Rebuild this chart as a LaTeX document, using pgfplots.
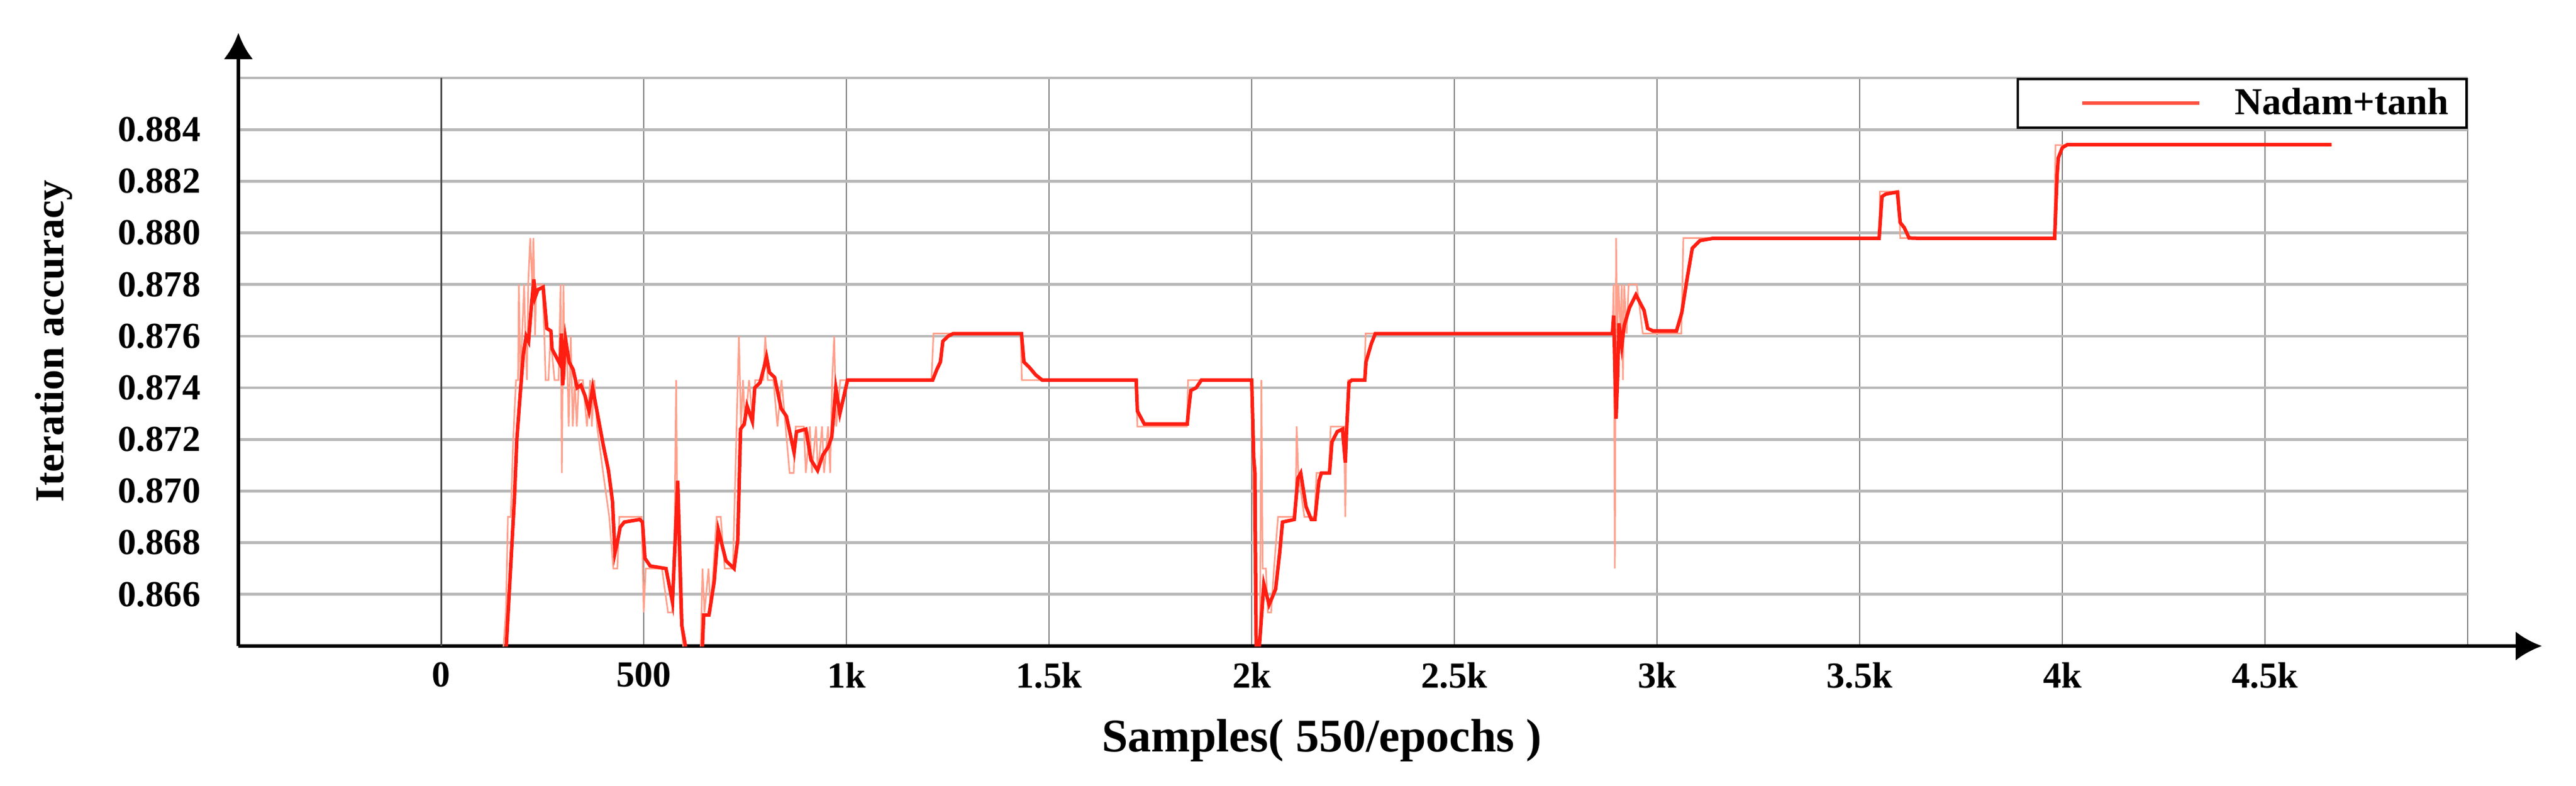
\documentclass[border=0pt]{standalone}
\usepackage{fontspec}
\setmainfont{Liberation Serif}
\usepackage{pgfplots}
\pgfplotsset{compat=1.18}
\usetikzlibrary{arrows.meta}

\definecolor{mainred}{RGB}{255,30,18}
\definecolor{rawred}{RGB}{255,160,140}
\definecolor{legred}{RGB}{255,82,66}

\begin{document}
\begin{tikzpicture}
\path[use as bounding box] (-81.4pt,-47.6pt) rectangle (798.2pt,220.6pt);
\begin{axis}[
  scale only axis,
  width=761.2pt, height=194pt,
  xmin=-500, xmax=5000,
  ymin=0.864, ymax=0.886,
  axis lines=left,
  every outer x axis line/.append style={line width=1.2pt, -{Latex[length=9pt,width=10pt]}, shorten >=-25.4pt},
  every outer y axis line/.append style={line width=1.2pt, -{Latex[length=9pt,width=10pt]}, shorten >=-15.4pt},
  xtick={0,500,1000,1500,2000,2500,3000,3500,4000,4500,5000},
  xticklabels={0,500,1k,1.5k,2k,2.5k,3k,3.5k,4k,4.5k,{}},
  ytick={0.866,0.868,0.870,0.872,0.874,0.876,0.878,0.880,0.882,0.884,0.886},
  yticklabels={0.866,0.868,0.870,0.872,0.874,0.876,0.878,0.880,0.882,0.884,{}},
  scaled x ticks=false, scaled y ticks=false,
  major tick length=0pt,
  ticklabel style={font=\fontsize{12.5}{12.5}\selectfont\bfseries},
  xticklabel style={yshift=-2pt},
  yticklabel style={xshift=-9.4pt},
  grid=major,
  x grid style={draw=black!50, line width=0.55pt},
  y grid style={draw=black!28, line width=0.95pt},
  every axis x label/.style={at={(axis description cs:0.486,-0.166)}, anchor=center},
  every axis y label/.style={at={(axis description cs:-0.0828,0.537)}, rotate=90, anchor=center},
  xlabel={\fontsize{16}{16}\selectfont\bfseries Samples( 550/epochs )},
  ylabel={\fontsize{14}{14}\selectfont\bfseries Iteration accuracy},
  legend style={at={(1,1)}, anchor=north east, draw=black, line width=0.8pt,
    inner xsep=4pt, inner ysep=1pt,
    font=\fontsize{13}{13}\selectfont\bfseries},
  legend image code/.code={%
    \path[draw=none] (-18pt,0pt) -- (50pt,0pt);
    \draw[line width=1.2pt, draw=legred] (0pt,0pt) -- (40pt,0pt);},
]
% darker line at zero
\draw[black!70, line width=0.6pt] (axis cs:0,0.864) -- (axis cs:0,0.886);

% raw (unsmoothed) values
\addplot[rawred, line width=0.55pt, forget plot] coordinates {
(145,0.8620) (160,0.8653) (165,0.8690) (172,0.8690) (178,0.8720) (185,0.8743)
(190,0.8743) (192,0.8780) (196,0.8743) (200,0.8760) (205,0.8780) (208,0.8760)
(212,0.8743) (215,0.8780) (220,0.8798) (225,0.8780) (228,0.8798) (232,0.8760)
(235,0.8780) (250,0.8780) (255,0.8760) (258,0.8743) (265,0.8743) (270,0.8760)
(280,0.8743) (290,0.8743) (295,0.8780) (298,0.8707) (302,0.8780) (305,0.8743)
(310,0.8760) (315,0.8725) (320,0.8760) (325,0.8725) (330,0.8743) (335,0.8725)
(340,0.8743) (350,0.8743) (360,0.8725) (368,0.8743) (372,0.8725) (378,0.8743)
(385,0.8725) (400,0.8707) (415,0.8690) (425,0.8670) (435,0.8670) (440,0.8690)
(495,0.8690) (500,0.8653) (505,0.8670) (545,0.8670) (560,0.8653) (570,0.8653)
(575,0.8670) (580,0.8743) (583,0.8690) (590,0.8653) (600,0.8635) (620,0.8620)
(640,0.8635) (645,0.8670) (650,0.8653) (660,0.8670) (665,0.8653) (680,0.8690)
(690,0.8690) (700,0.8670) (720,0.8670) (735,0.8760) (740,0.8725) (745,0.8743)
(750,0.8725) (760,0.8743) (770,0.8725) (775,0.8743) (795,0.8743) (800,0.8760)
(806,0.8743) (820,0.8743) (830,0.8725) (840,0.8743) (850,0.8725) (860,0.8707)
(870,0.8707) (875,0.8725) (895,0.8725) (900,0.8707) (910,0.8725) (915,0.8707)
(925,0.8725) (930,0.8707) (940,0.8725) (945,0.8707) (955,0.8725) (960,0.8707)
(965,0.8743) (970,0.8760) (975,0.8725) (985,0.8743) (1000,0.8743)
(1210,0.8743) (1215,0.8761) (1430,0.8761) (1433,0.8743) (1715,0.8743)
(1718,0.8725) (1840,0.8725) (1843,0.8743) (2000,0.8743) (2003,0.8707)
(2008,0.8653) (2012,0.8620) (2020,0.8635) (2024,0.8743) (2027,0.8670)
(2035,0.8670) (2040,0.8653) (2048,0.8653) (2055,0.8670) (2065,0.8690)
(2108,0.8690) (2111,0.8725) (2115,0.8707) (2130,0.8690) (2155,0.8690)
(2160,0.8707) (2190,0.8707) (2195,0.8725) (2228,0.8725) (2231,0.8690)
(2234,0.8725) (2238,0.8743) (2278,0.8743) (2281,0.8761) (2890,0.8761)
(2893,0.8780) (2896,0.8670) (2899,0.8798) (2902,0.8761) (2905,0.8780)
(2910,0.8761) (2913,0.8780) (2916,0.8743) (2919,0.8780) (2925,0.8761)
(2930,0.8780) (2950,0.8780) (2965,0.8761) (3060,0.8761) (3065,0.8798)
(3548,0.8798) (3550,0.8816) (3597,0.8816) (3600,0.8798) (3980,0.8798)
(3983,0.8834) (4664,0.8834)
};

% smoothed values
\addplot[mainred, line width=1.2pt] coordinates {
(150,0.8625) (161,0.8640) (181,0.8697) (187,0.8720) (197,0.8741) (203,0.8753)
(210,0.8760) (216,0.8758) (223,0.8772) (229,0.8782) (232,0.8775) (239,0.8778)
(252,0.8779) (261,0.8763) (271,0.8762) (274,0.8755) (284,0.8752) (294,0.8749)
(297,0.8761) (300,0.8741) (307,0.8759) (316,0.8750) (326,0.8747) (336,0.8740)
(345,0.8741) (355,0.8737) (365,0.8731) (374,0.8740) (387,0.8729) (400,0.8718)
(413,0.8708) (423,0.8696) (429,0.8676) (436,0.8681) (442,0.8686) (452,0.8688)
(490,0.8689) (497,0.8688) (503,0.8674) (516,0.8671) (555,0.8670) (571,0.8657)
(584,0.8704) (594,0.8648) (603,0.8640) (620,0.8630) (645,0.8640) (648,0.8652)
(661,0.8652) (674,0.8665) (684,0.8685) (703,0.8673) (723,0.8670) (732,0.8681)
(739,0.8724) (748,0.8726) (755,0.8733) (768,0.8727) (774,0.8740) (787,0.8742)
(797,0.8748) (803,0.8752) (810,0.8746) (823,0.8744) (839,0.8732) (852,0.8729)
(871,0.8715) (877,0.8723) (900,0.8724) (913,0.8712) (929,0.8708) (942,0.8714)
(955,0.8717) (964,0.8721) (974,0.8740) (984,0.8730) (1003,0.8743)
(1019,0.8743) (1213,0.8743) (1223,0.8747) (1232,0.8750) (1238,0.8758)
(1251,0.8760) (1264,0.8761) (1432,0.8761) (1438,0.8750) (1451,0.8748)
(1467,0.8745) (1483,0.8743) (1715,0.8743) (1718,0.8731) (1735,0.8726)
(1841,0.8726) (1844,0.8731) (1850,0.8739) (1863,0.8740) (1876,0.8743)
(2000,0.8743) (2005,0.8713) (2008,0.8707) (2011,0.8640) (2014,0.8632)
(2019,0.8640) (2030,0.8664) (2043,0.8656) (2059,0.8662) (2069,0.8676)
(2076,0.8688) (2105,0.8689) (2114,0.8705) (2121,0.8707) (2134,0.8694)
(2147,0.8689) (2156,0.8689) (2166,0.8704) (2172,0.8707) (2192,0.8707)
(2198,0.8719) (2211,0.8723) (2224,0.8724) (2231,0.8711) (2234,0.8723)
(2240,0.8742) (2247,0.8743) (2279,0.8743) (2282,0.8750) (2295,0.8757)
(2305,0.8761) (2315,0.8761) (2890,0.8761) (2893,0.8768) (2899,0.8728)
(2903,0.8745) (2906,0.8765) (2913,0.8756) (2919,0.8764) (2932,0.8771)
(2948,0.8776) (2968,0.8770) (2977,0.8763) (2990,0.8762) (3048,0.8762)
(3061,0.8769) (3074,0.8782) (3087,0.8794) (3106,0.8797) (3139,0.87979)
(3548,0.87979) (3555,0.8814) (3564,0.8815) (3593,0.88158) (3600,0.8804)
(3610,0.8802) (3622,0.8798) (3642,0.87979) (3981,0.87979) (3987,0.8822)
(3990,0.8829) (4000,0.8833) (4013,0.88342) (4664,0.88342)
};
\addlegendentry{Nadam+tanh}
\end{axis}
\end{tikzpicture}
\end{document}
